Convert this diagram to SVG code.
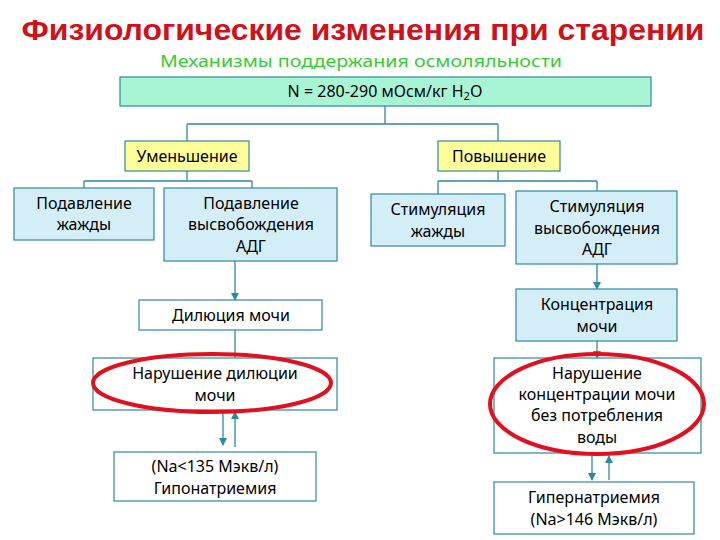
<svg xmlns="http://www.w3.org/2000/svg" width="720" height="540" viewBox="0 0 720 540">
<defs>
<marker id="ar" markerWidth="8" markerHeight="8" refX="7" refY="4" orient="auto" markerUnits="userSpaceOnUse"><path d="M0,0 L8,4 L0,8 z" fill="#2e8b9a"/></marker>
<style>
text{font-family:"Comic Sans MS","Noto Sans","DejaVu Sans",sans-serif;text-anchor:middle;fill:#000;font-size:16px}
.g{fill:#a8f5d5;stroke:#2e8b9a;stroke-width:1.2}
.y{fill:#ffff99;stroke:#2e8b9a;stroke-width:1.2}
.b{fill:#d4eef8;stroke:#2e8b9a;stroke-width:1.2}
.w{fill:#fff;stroke:#2e8b9a;stroke-width:1.2}
.c{fill:none;stroke:#2e8b9a;stroke-width:1.3}
.e{fill:none;stroke:#e01020;stroke-width:4}
</style>
</defs>
<rect width="720" height="540" fill="#fff"/>
<text x="363" y="40" style="font-size:30px;font-weight:bold;fill:#d0101a;font-family:'Liberation Sans',sans-serif" textLength="683" lengthAdjust="spacingAndGlyphs">Физиологические изменения при старении</text>
<text x="361" y="67" style="font-size:17px;fill:#33cc33" textLength="402" lengthAdjust="spacingAndGlyphs">Механизмы поддержания осмоляльности</text>
<g id="connectors">
<path class="c" d="M385,106V124M187,124H498M187,124V141M498,124V141"/>
<path class="c" d="M187,171V181M84,181H252M84,181V188M252,181V188"/>
<path class="c" d="M498,171V181M438,181H597M438,181V194M597,181V191"/>
<path class="c" d="M235,261V300" marker-end="url(#ar)"/>
<path class="c" d="M235,330V358"/>
<path class="c" d="M223,410V445" marker-end="url(#ar)"/>
<path class="c" d="M235,447V412" marker-end="url(#ar)"/>
<path class="c" d="M597,264V289" marker-end="url(#ar)"/>
<path class="c" d="M597,341V358" marker-end="url(#ar)"/>
<path class="c" d="M592,456V480" marker-end="url(#ar)"/>
<path class="c" d="M609,480V456" marker-end="url(#ar)"/>
</g>
<g id="n0"><rect class="g" x="120" y="77" width="531" height="29"/><text x="385" y="97">N = 280-290 мОсм/кг H<tspan style="font-size:11px" dy="3">2</tspan><tspan dy="-3">O</tspan></text></g>
<g id="n1"><rect class="y" x="125" y="141" width="124" height="30"/><text x="187" y="162">Уменьшение</text></g>
<g id="n2"><rect class="y" x="438" y="141" width="122" height="30"/><text x="499" y="162">Повышение</text></g>
<g id="n3"><rect class="b" x="14" y="188" width="140" height="52"/><text x="84" y="209">Подавление</text><text x="84" y="230">жажды</text></g>
<g id="n4"><rect class="b" x="164" y="188" width="173" height="73"/><text x="251" y="209">Подавление</text><text x="251" y="230">высвобождения</text><text x="251" y="252">АДГ</text></g>
<g id="n5"><rect class="b" x="371" y="194" width="134" height="52"/><text x="438" y="215">Стимуляция</text><text x="438" y="237">жажды</text></g>
<g id="n6"><rect class="b" x="516" y="191" width="161" height="73"/><text x="597" y="212">Стимуляция</text><text x="597" y="234">высвобождения</text><text x="597" y="255">АДГ</text></g>
<g id="n7"><rect class="w" x="139" y="300" width="183" height="30"/><text x="231" y="321">Дилюция мочи</text></g>
<g id="n8"><rect class="w" x="93" y="358" width="244" height="52"/><text x="215" y="379">Нарушение дилюции</text><text x="215" y="401">мочи</text><ellipse class="e" cx="212" cy="383" rx="119" ry="29"/></g>
<g id="n9"><rect class="w" x="114" y="452" width="202" height="49"/><text x="215" y="472">(Na&lt;135 Мэкв/л)</text><text x="215" y="494">Гипонатриемия</text></g>
<g id="n10"><rect class="b" x="516" y="289" width="161" height="52"/><text x="597" y="310">Концентрация</text><text x="597" y="332">мочи</text></g>
<g id="n11"><rect class="w" x="494" y="358" width="207" height="95"/><text x="597" y="379">Нарушение</text><text x="597" y="400">концентрации мочи</text><text x="597" y="421">без потребления</text><text x="597" y="443">воды</text><ellipse class="e" cx="597" cy="404" rx="107" ry="50"/></g>
<g id="n12"><rect class="w" x="494" y="482" width="200" height="52"/><text x="594" y="503">Гипернатриемия</text><text x="594" y="525">(Na&gt;146 Мэкв/л)</text></g>
</svg>
